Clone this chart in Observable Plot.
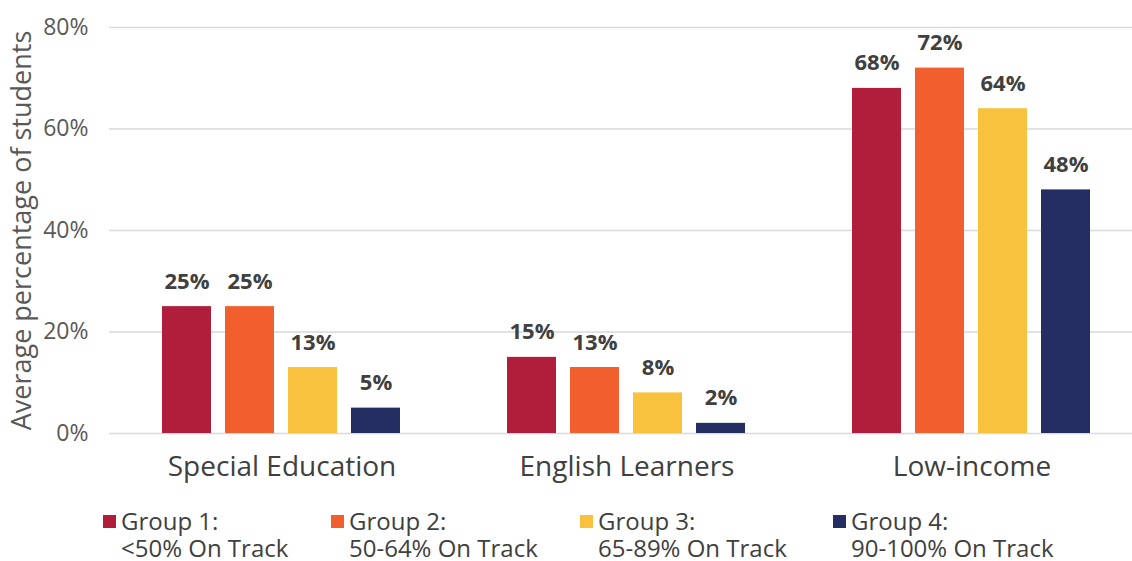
<!DOCTYPE html>
<html><head><meta charset="utf-8">
<script src="https://cdn.jsdelivr.net/npm/d3@7"></script>
<script src="https://cdn.jsdelivr.net/npm/@observablehq/plot@0.6"></script>
<style>
html,body{margin:0;padding:0;background:#fff;overflow:hidden;}
#wrap{position:relative;width:1132px;height:561px;font-family:"Open Sans",sans-serif;overflow:hidden;}
#legend{position:absolute;left:0;top:0;width:1132px;height:561px;pointer-events:none;}
.item{position:absolute;top:507px;font-size:24px;line-height:27px;color:#404040;white-space:nowrap;}
.sw{position:absolute;width:13px;height:13px;top:8px;}
</style></head><body>
<div id="wrap"><div id="chart"></div><div id="legend"></div></div>
<script>
const categories = ["Special Education", "English Learners", "Low-income"];
const groupKeys = ["Group 1:", "Group 2:", "Group 3:", "Group 4:"];
const groupRanges = ["<50% On Track", "50-64% On Track", "65-89% On Track", "90-100% On Track"];
const colors = ["#B01E3B", "#F15F2E", "#F8C23F", "#252E63"];
const specialEducation = [25, 25, 13, 5];
const englishLearners = [15, 13, 8, 2];
const lowIncome = [68, 72, 64, 48];
const yTicks = [0, 20, 40, 60, 80];

const seriesByCategory = [specialEducation, englishLearners, lowIncome];
const data = categories.flatMap((c, i) => groupKeys.map((g, j) => ({category: c, group: g, value: seriesByCategory[i][j]})));

const font = "'Open Sans', sans-serif";
const chart = Plot.plot({
  width: 1132, height: 490,
  marginLeft: 109, marginRight: 0, marginTop: 27, marginBottom: 57,
  style: {fontFamily: font, background: "white", overflow: "visible"},
  fx: {domain: categories, range: [109, 1144], paddingInner: 0, paddingOuter: 0, label: null},
  x: {domain: groupKeys, paddingInner: 0.22, paddingOuter: 0.848, axis: null},
  y: {domain: [0, 80], ticks: yTicks},
  color: {domain: groupKeys, range: colors},
  marks: [
    Plot.gridY(yTicks, {stroke: "#d9d9d9", strokeOpacity: 1, strokeWidth: 1.5}),
    Plot.barY(data, {fx: "category", x: "group", y: "value", fill: "group"}),
    Plot.text(data, {fx: "category", x: "group", y: "value", text: d => d.value + "%", dy: -25, fontWeight: "bold", fontSize: 22, fill: "#404040"}),
    Plot.axisY(yTicks, {tickFormat: d => d + "%", tickSize: 0, tickPadding: 21, fontSize: 23, fill: "#595959", label: null}),
    Plot.axisY(yTicks, {tickFormat: null, ticks: [], tickSize: 0, fontSize: 27, fill: "#595959", text: null,
      label: "Average percentage of students", labelAnchor: "center", labelOffset: 98, labelArrow: "none"}),
    Plot.axisFx({anchor: "bottom", tickSize: 0, tickPadding: 23, fontSize: 28, fill: "#404040", label: null})
  ]
});
document.getElementById("chart").appendChild(chart);

const swX = [103, 331, 580, 833];
const legend = document.getElementById("legend");
groupKeys.forEach((g, i) => {
  const it = document.createElement("div");
  it.className = "item";
  it.style.left = (swX[i] + 18) + "px";
  it.innerHTML = `<span class="sw" style="background:${colors[i]};left:-18px"></span>${g}<br>${groupRanges[i]}`;
  legend.appendChild(it);
});
</script></body></html>
